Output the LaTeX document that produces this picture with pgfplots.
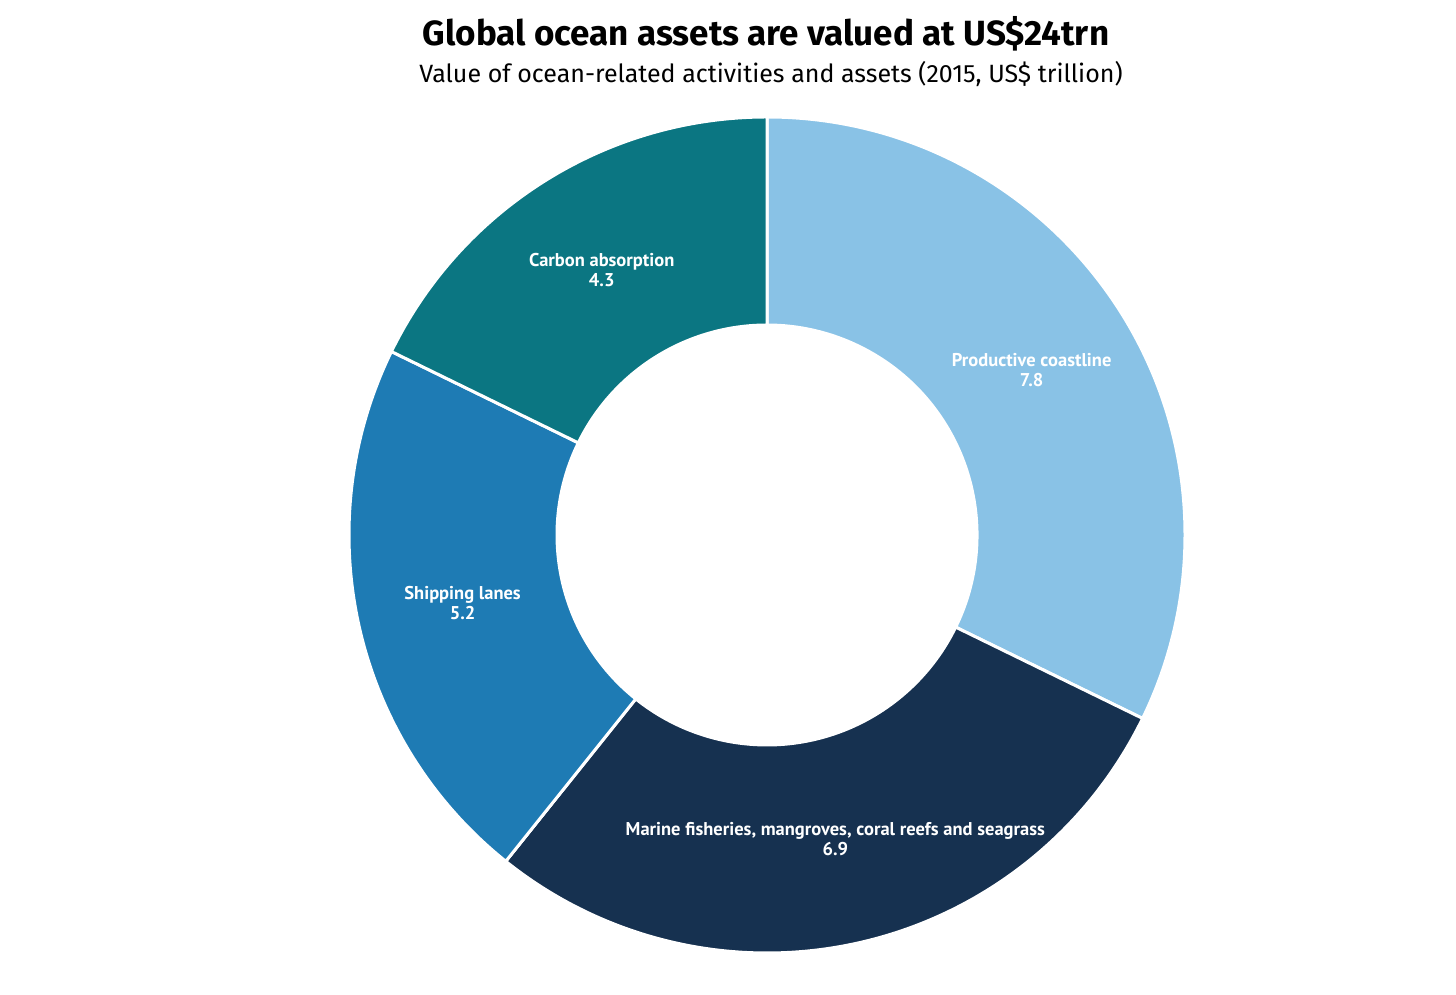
\documentclass[border=0pt]{standalone}
\usepackage{pgfplots}
\pgfplotsset{compat=1.18}
\usepackage{fontspec}
\setmainfont{Fira Sans}
\newfontfamily\labfont{PT Sans}
\definecolor{coast}{HTML}{89C2E6}
\definecolor{marine}{HTML}{163150}
\definecolor{ship}{HTML}{1E7BB4}
\definecolor{carbon}{HTML}{0B7682}
% centre of the ring and radii, in picture pixels (1 axis unit = 1pt)
\def\cx{767}
\def\cy{-535}
\def\ro{418}
\def\ri{210}
\def\total{24.2}
\begin{document}
\begin{tikzpicture}
\begin{axis}[
    scale only axis,
    width=1456pt, height=995pt,
    xmin=0, xmax=1456, ymin=-995, ymax=0,
    hide axis, clip=false,
  ]
  \fill[white] (rel axis cs:0,0) rectangle (rel axis cs:1,1);
  \foreach \v/\c/\lab [remember=\e as \s (initially 90)] in {
      7.8/coast/{Productive coastline},
      6.9/marine/{Marine fisheries, mangroves, coral reefs and seagrass},
      5.2/ship/{Shipping lanes},
      4.3/carbon/{Carbon absorption}} {
    \pgfmathsetmacro\e{\s-\v/\total*360}
    \pgfmathsetmacro\m{(\s+\e)/2}
    \pgfmathsetmacro\xa{\cx+\ro*cos(\s)}
    \pgfmathsetmacro\ya{\cy+\ro*sin(\s)}
    \pgfmathsetmacro\xb{\cx+\ri*cos(\e)}
    \pgfmathsetmacro\yb{\cy+\ri*sin(\e)}
    \pgfmathsetmacro\xl{\cx+312*cos(\m)}
    \pgfmathsetmacro\yl{\cy+312*sin(\m)}
    \edef\temp{%
      \noexpand\filldraw[fill=\c, draw=white, line width=3pt, line join=round]
        (axis cs:\xa,\ya) arc[start angle=\s, end angle=\e, radius=\ro]
        -- (axis cs:\xb,\yb) arc[start angle=\e, end angle=\s, radius=\ri] -- cycle;
      \noexpand\node[white, align=center, font=\noexpand\labfont\noexpand\bfseries\noexpand\fontsize{18.5}{20}\noexpand\selectfont, inner sep=0pt]
        at (axis cs:\xl,\yl) {\lab\noexpand\\\v};
    }
    \temp
  }
  \node[font=\bfseries\fontsize{35}{40}\selectfont, anchor=base] at (axis cs:766,-46) {Global ocean assets are valued at US\$24trn};
  \node[font=\fontsize{25}{30}\selectfont, anchor=base] at (axis cs:771,-83) {Value of ocean-related activities and assets (2015, US\$ trillion)};
\end{axis}
\end{tikzpicture}
\end{document}
